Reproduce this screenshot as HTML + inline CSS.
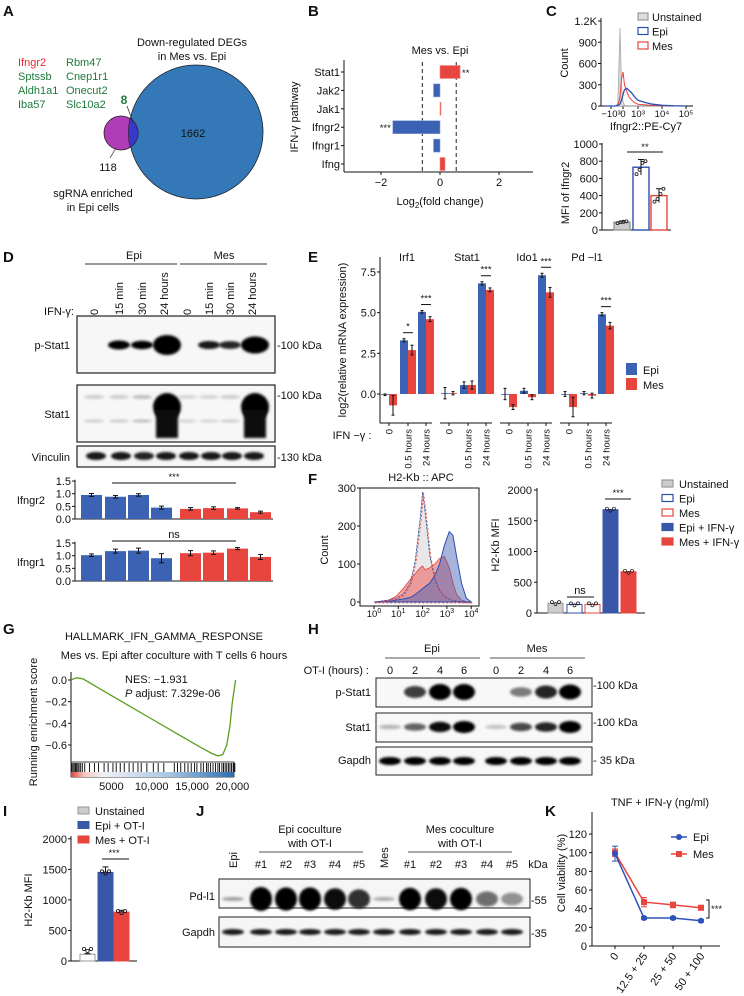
<!DOCTYPE html>
<html><head><meta charset="utf-8"><style>
html,body{margin:0;padding:0;background:#fff}
svg{display:block}
text{font-family:"Liberation Sans",sans-serif;fill:#111}
.pl{font-size:15px;font-weight:bold}
.t{font-size:11px}
.s{font-size:9.5px}
</style></head><body>
<svg id="fig" width="744" height="996" viewBox="0 0 744 996" xmlns="http://www.w3.org/2000/svg">
<defs>
<filter id="blur1" x="-50%" y="-50%" width="200%" height="200%"><feGaussianBlur stdDeviation="1.4"/></filter>
<linearGradient id="gsea" x1="0" x2="1" y1="0" y2="0">
<stop offset="0" stop-color="#e0403a"/><stop offset="0.08" stop-color="#f3c8c0"/><stop offset="0.2" stop-color="#f0f0f6"/><stop offset="0.6" stop-color="#a8c6e2"/><stop offset="1" stop-color="#2a6eb0"/></linearGradient>
</defs>
<!-- Panel A -->
<g>
<text class="pl" x="3" y="16">A</text>
<text class="t" x="192" y="46" text-anchor="middle">Down-regulated DEGs</text>
<text class="t" x="192" y="60" text-anchor="middle">in Mes vs. Epi</text>
<text class="t" x="18" y="66" style="fill:#e8262d">Ifngr2</text>
<text class="t" x="66" y="66" style="fill:#1e7a3c">Rbm47</text>
<text class="t" x="18" y="80" style="fill:#1e7a3c">Sptssb</text>
<text class="t" x="66" y="80" style="fill:#1e7a3c">Cnep1r1</text>
<text class="t" x="18" y="94" style="fill:#1e7a3c">Aldh1a1</text>
<text class="t" x="66" y="94" style="fill:#1e7a3c">Onecut2</text>
<text class="t" x="18" y="108" style="fill:#1e7a3c">Iba57</text>
<text class="t" x="66" y="108" style="fill:#1e7a3c">Slc10a2</text>
<circle cx="196" cy="132" r="67" fill="#3478b8" stroke="#222" stroke-width="0.8"/>
<circle cx="121" cy="133" r="17" fill="#b03cb8" stroke="#222" stroke-width="0.8"/>
<path d="M130,118.5 A17,17 0 0 1 130,147.5 A67,67 0 0 1 130,118.5 Z" fill="#3a38c8" stroke="#222" stroke-width="0.6"/>
<text x="124" y="104" text-anchor="middle" style="fill:#1e7a3c;font-size:12px;font-weight:bold">8</text>
<line x1="127" y1="106" x2="133" y2="122" stroke="#222" stroke-width="0.7"/>
<text class="t" x="193" y="137" text-anchor="middle">1662</text>
<line x1="110" y1="158" x2="116" y2="148" stroke="#222" stroke-width="0.7"/>
<text class="t" x="108" y="171" text-anchor="middle">118</text>
<text class="t" x="93" y="197" text-anchor="middle">sgRNA enriched</text>
<text class="t" x="93" y="211" text-anchor="middle">in Epi cells</text>
</g>
<!-- Panel B -->
<g id="pB">
<text class="pl" x="308" y="16">B</text>
<text class="t" x="440" y="54" text-anchor="middle">Mes vs. Epi</text>
<text class="t" x="440" y="205" text-anchor="middle">Log<tspan font-size="8" dy="3">2</tspan><tspan dy="-3">(fold change)</tspan></text>
<text class="t" transform="translate(298,117) rotate(-90)" text-anchor="middle">IFN-γ pathway</text>
</g>
<!-- Panel C -->
<g id="pC">
<text class="pl" x="546" y="16">C</text>
<text class="t" transform="translate(568,63) rotate(-90)" text-anchor="middle">Count</text>
<text class="t" x="646" y="130" text-anchor="middle">Ifngr2::PE-Cy7</text>
<text class="t" transform="translate(569,193) rotate(-90)" text-anchor="middle">MFI of Ifngr2</text>
</g>
<!-- Panel D -->
<g id="pD">
<text class="pl" x="3" y="262">D</text>
<text class="t" x="134" y="259" text-anchor="middle">Epi</text>
<line x1="85" y1="264" x2="177" y2="264" stroke="#333"/>
<text class="t" x="224" y="259" text-anchor="middle">Mes</text>
<line x1="180" y1="264" x2="267" y2="264" stroke="#333"/>
<text class="t" x="74" y="315" text-anchor="end">IFN-γ:</text>
<text class="t" x="70" y="349" text-anchor="end">p-Stat1</text>
<text class="t" x="70" y="418" text-anchor="end">Stat1</text>
<text class="t" x="70" y="461" text-anchor="end">Vinculin</text>
<text class="t" x="277" y="349">-100 kDa</text>
<text class="t" x="277" y="399">-100 kDa</text>
<text class="t" x="277" y="461">-130 kDa</text>
<text class="t" x="45" y="504" text-anchor="end">Ifngr2</text>
<text class="t" x="45" y="566" text-anchor="end">Ifngr1</text>
</g>
<!-- Panel E -->
<g id="pE">
<text class="pl" x="308" y="262">E</text>
<text class="t" transform="translate(346,340) rotate(-90)" text-anchor="middle">log2(relative mRNA expression)</text>
<text class="t" x="352" y="439" text-anchor="middle">IFN −γ :</text>
</g>
<!-- Panel F -->
<g id="pF">
<text class="pl" x="308" y="484">F</text>
<text class="t" x="421" y="481" text-anchor="middle">H2-Kb :: APC</text>
<text class="t" transform="translate(328,550) rotate(-90)" text-anchor="middle">Count</text>
<text class="t" transform="translate(499,545) rotate(-90)" text-anchor="middle">H2-Kb MFI</text>
</g>
<!-- Panel G -->
<g id="pG">
<text class="pl" x="3" y="634">G</text>
<text class="t" x="164" y="640" text-anchor="middle">HALLMARK_IFN_GAMMA_RESPONSE</text>
<text class="t" x="174" y="659" text-anchor="middle">Mes vs. Epi  after coculture with T cells 6 hours</text>
<text class="t" x="125" y="683">NES: −1.931</text>
<text class="t" x="125" y="697"><tspan font-style="italic">P</tspan> adjust: 7.329e-06</text>
<text class="t" transform="translate(37,722) rotate(-90)" text-anchor="middle">Running enrichment score</text>
</g>
<!-- Panel H -->
<g id="pH">
<text class="pl" x="308" y="634">H</text>
<text class="t" x="432" y="652" text-anchor="middle">Epi</text>
<line x1="385" y1="658" x2="480" y2="658" stroke="#555"/>
<text class="t" x="537" y="652" text-anchor="middle">Mes</text>
<line x1="490" y1="658" x2="585" y2="658" stroke="#555"/>
<text class="t" x="369" y="674" text-anchor="end">OT-I (hours) :</text>
<text class="t" x="371" y="696" text-anchor="end">p-Stat1</text>
<text class="t" x="371" y="731" text-anchor="end">Stat1</text>
<text class="t" x="371" y="764" text-anchor="end">Gapdh</text>
<text class="t" x="593" y="689">-100 kDa</text>
<text class="t" x="593" y="726">-100 kDa</text>
<text class="t" x="593" y="764">- 35 kDa</text>
</g>
<!-- Panel I -->
<g id="pI">
<text class="pl" x="3" y="816">I</text>
<text class="t" transform="translate(32,900) rotate(-90)" text-anchor="middle">H2-Kb MFI</text>
</g>
<!-- Panel J -->
<g id="pJ">
<text class="pl" x="196" y="816">J</text>
<text class="t" x="310" y="833" text-anchor="middle">Epi coculture</text>
<text class="t" x="310" y="847" text-anchor="middle">with OT-I</text>
<line x1="259" y1="852" x2="363" y2="852" stroke="#555"/>
<text class="t" x="460" y="833" text-anchor="middle">Mes coculture</text>
<text class="t" x="460" y="847" text-anchor="middle">with OT-I</text>
<line x1="408" y1="852" x2="512" y2="852" stroke="#555"/>
<text class="t" x="215" y="900" text-anchor="end">Pd-l1</text>
<text class="t" x="215" y="936" text-anchor="end">Gapdh</text>
<text class="t" x="531" y="904">-55</text>
<text class="t" x="531" y="937">-35</text>
<text class="t" x="538" y="868" text-anchor="middle">kDa</text>
</g>
<!-- Panel K -->
<g id="pK">
<text class="pl" x="545" y="816">K</text>
<text class="t" x="660" y="806" text-anchor="middle">TNF + IFN-γ (ng/ml)</text>
<text class="t" transform="translate(565,873) rotate(-90)" text-anchor="middle">Cell viability (%)</text>
</g>
</svg>
<script>
var NS='http://www.w3.org/2000/svg';
var BLUE='#3b62b3',RED='#e8453e';
function mk(tag,at,par){var e=document.createElementNS(NS,tag);for(var k in at)e.setAttribute(k,at[k]);(par||document.getElementById('fig')).appendChild(e);return e;}
function tx(x,y,s,cls,anchor,par){var e=mk('text',{x:x,y:y,'class':cls||'s','text-anchor':anchor||'middle'},par);e.textContent=s;return e;}

// ---------- B data ----------
var bGenes=['Stat1','Jak2','Jak1','Ifngr2','Ifngr1','Ifng'];
var bVals=[0.68,-0.22,0.03,-1.6,-0.22,0.17];
var bTicks=[-2,0,2];
var bStars=['**','','','***','',''];
(function(){var g=document.getElementById('pB');
function X(v){return 440+v*29.5;} function Y(i){return 72+i*18.4;}
mk('line',{x1:344,y1:60,x2:344,y2:172,stroke:'#111'},g);
mk('line',{x1:344,y1:172,x2:533,y2:172,stroke:'#111'},g);
[-0.6,0.55].forEach(function(v){var l=mk('line',{x1:X(v),y1:62,x2:X(v),y2:172,stroke:'#222','stroke-dasharray':'4,3'},g);

});
bTicks.forEach(function(t){mk('line',{x1:X(t),y1:172,x2:X(t),y2:175,stroke:'#111'},g);var e=tx(X(t),186,t<0?'−'+Math.abs(t):String(t),'t','middle',g);

});
bGenes.forEach(function(n,i){var v=bVals[i],y=Y(i);
mk('line',{x1:341,y1:y,x2:344,y2:y,stroke:'#111'},g);
var l=tx(340,y+4,n,'t','end',g);


var r=mk('rect',{x:Math.min(X(0),X(v)),y:y-6.5,width:Math.max(1,Math.abs(X(v)-X(0))),height:13,fill:v>=0?RED:BLUE,stroke:v>=0?'#f08a85':'#8aa0d8','stroke-width':0.6},g);


if(bStars[i]){var s=tx(v>0?X(v)+2:X(v)-2,y+4,bStars[i],'s',v>0?'start':'end',g);

}
});})();

// ---------- C data ----------
var cHistTicks=[0,300,600,900,1200];
var cHistTickLabels=['0','300','600','900','1.2K'];
var cBinU=[-1.2,-0.5,-0.35,-0.2,-0.1,0,0.1,0.25,0.4,0.55,0.7,0.85,1,1.3,1.6,2,2.5,3];
var cUnst=[0,0,40,1100,300,60,10,0,0,0,0,0,0,0,0,0,0,0];
var cMes=[0,0,10,120,380,480,300,200,130,90,60,40,25,15,8,4,1,0];
var cEpi=[0,0,5,30,80,160,230,250,220,190,150,110,80,50,25,10,3,0];
var cBarCats=['Unstained','Epi','Mes'];
var cBarVals=[90,730,400];
var cBarErr=[15,90,80];
var cBarDots=[[80,90,95,100],[650,700,780,800],[330,360,420,480]];
var cBarTicks=[0,200,400,600,800,1000];
(function(){var g=document.getElementById('pC');
function X(u){return u<=1?623+u*15:638+(u-1)*24;} function Y(c){return 106-c/1200*85;}
mk('line',{x1:601,y1:18,x2:601,y2:106,stroke:'#111'},g);
mk('line',{x1:601,y1:106,x2:693,y2:106,stroke:'#111'},g);
cHistTicks.forEach(function(t,i){mk('line',{x1:598,y1:Y(t),x2:601,y2:Y(t),stroke:'#111'},g);var e=tx(597,Y(t)+4,cHistTickLabels[i],'t','end',g);

});
[[-0.8,'−10³'],[0,'0'],[1,'10³'],[2,'10⁴'],[3,'10⁵']].forEach(function(t){mk('line',{x1:X(t[0]),y1:106,x2:X(t[0]),y2:109,stroke:'#111'},g);var e=tx(X(t[0]),117,t[1],'s','middle',g);

});
function hp(arr){var d='M'+X(cBinU[0])+','+Y(0);cBinU.forEach(function(u,i){d+=' L'+X(u).toFixed(1)+','+Y(arr[i]).toFixed(1);});return d;}
var u=mk('path',{d:hp(cUnst)+' Z',fill:'#d8d8d8',stroke:'#aaa','stroke-width':0.8},g);


var m=mk('path',{d:hp(cMes),fill:'none',stroke:RED,'stroke-width':1},g);


var e=mk('path',{d:hp(cEpi),fill:'none',stroke:'#2c4fb0','stroke-width':1.3},g);


[['Unstained','#ddd','#999'],['Epi','#fff','#2c4fb0'],['Mes','#fff',RED]].forEach(function(l,i){var y=17+i*14.5;
var r=mk('rect',{x:638,y:y-4,width:10,height:7,fill:l[1],stroke:l[2],'stroke-width':1.2},g);


var t=tx(652,y+4,l[0],'t','start',g);

});
// bar
function BY(v){return 230-v*0.086;}
mk('line',{x1:602,y1:143,x2:602,y2:230,stroke:'#111'},g);
mk('line',{x1:602,y1:230,x2:671,y2:230,stroke:'#111'},g);
cBarTicks.forEach(function(t){mk('line',{x1:599,y1:BY(t),x2:602,y2:BY(t),stroke:'#111'},g);var e=tx(598,BY(t)+4,String(t),'t','end',g);

});
var xs=[614,633,651],cols=[['#ccc','#999'],['#fff','#2c4fb0'],['#fff',RED]];
cBarCats.forEach(function(c,i){var v=cBarVals[i];
var r=mk('rect',{x:xs[i],y:BY(v),width:16,height:230-BY(v),fill:cols[i][0],stroke:cols[i][1],'stroke-width':1.4},g);


var cx=xs[i]+8;mk('line',{x1:cx,y1:BY(v+cBarErr[i]),x2:cx,y2:BY(v-cBarErr[i]),stroke:'#111'},g);
mk('line',{x1:cx-3,y1:BY(v+cBarErr[i]),x2:cx+3,y2:BY(v+cBarErr[i]),stroke:'#111'},g);
cBarDots[i].forEach(function(d,j){mk('circle',{cx:cx-4.5+j*3,cy:BY(d),r:1.5,fill:'none',stroke:'#111','stroke-width':0.8},g);});});
mk('line',{x1:627,y1:152,x2:663,y2:152,stroke:'#111'},g);
tx(645,150,'**','s','middle',g);
})();

// ---------- D blots & quant ----------
var dLanes=['0','15 min','30 min','24 hours','0','15 min','30 min','24 hours'];
var dPstat1=[0,0.75,0.6,1.0,0,0.5,0.45,0.85];
var dStat1=[0.15,0.15,0.2,1.0,0.12,0.12,0.15,1.0];
var dVinc=[0.9,0.9,0.85,0.9,0.9,0.9,0.9,0.9];
var dIfngr2=[0.95,0.88,0.95,0.45,0.4,0.43,0.42,0.27];
var dIfngr2Err=[0.06,0.05,0.05,0.06,0.05,0.05,0.03,0.04];
var dIfngr1=[1.02,1.18,1.2,0.9,1.1,1.12,1.28,0.95];
var dIfngr1Err=[0.05,0.08,0.1,0.18,0.1,0.07,0.04,0.1];
(function(){var g=document.getElementById('pD');
var lx=[94,119,142,164,187,209,230,252];
dLanes.forEach(function(l,i){var t=mk('text',{x:0,y:0,'class':'t','text-anchor':'start',transform:'translate('+(lx[i]+4)+',315) rotate(-90)'},g);t.textContent=l;

});
function box(y,h,name){var r=mk('rect',{x:77,y:y,width:198,height:h,fill:'#f7f7f7',stroke:'#222','stroke-width':1.2},g);

}
box(316,57,'d-blot-pstat1');box(385,57,'d-blot-stat1');box(446,21,'d-blot-vinculin');
dPstat1.forEach(function(v,i){if(v>0){var big=i==3||i==7;mk('ellipse',{cx:lx[i]+(big?3:0),cy:345,rx:big?14:11,ry:big?10*v:3+2*v,fill:'#000',opacity:Math.min(1,0.4+v),filter:'url(#blur1)'},g);}});
dStat1.forEach(function(v,i){if(v>=1){mk('ellipse',{cx:lx[i]+3,cy:407,rx:14,ry:14,fill:'#000',filter:'url(#blur1)'},g);mk('rect',{x:lx[i]-8,y:410,width:22,height:28,fill:'#111',filter:'url(#blur1)'},g);}
else{mk('ellipse',{cx:lx[i],cy:397,rx:10,ry:2,fill:'#888',opacity:v*2.5,filter:'url(#blur1)'},g);mk('ellipse',{cx:lx[i],cy:421,rx:10,ry:1.6,fill:'#888',opacity:v*2.5,filter:'url(#blur1)'},g);}});
dVinc.forEach(function(v,i){mk('ellipse',{cx:lx[i]+2,cy:456,rx:10,ry:4,fill:'#000',opacity:v,filter:'url(#blur1)'},g);});
function quant(vals,errs,y0,name){function Y(v){return y0-v*25.3;}
mk('line',{x1:75,y1:Y(1.55),x2:75,y2:y0,stroke:'#111'},g);mk('line',{x1:75,y1:y0,x2:273,y2:y0,stroke:'#111'},g);
[0,0.5,1,1.5].forEach(function(t){mk('line',{x1:72,y1:Y(t),x2:75,y2:Y(t),stroke:'#111'},g);var e=tx(71,Y(t)+4,t.toFixed(1),'t','end',g);

});
var bx=[81,105,128,151,180,203,227,250];
vals.forEach(function(v,i){var r=mk('rect',{x:bx[i],y:Y(v),width:21,height:y0-Y(v),fill:i<4?BLUE:RED},g);


var cx=bx[i]+10.5;mk('line',{x1:cx,y1:Y(v+errs[i]),x2:cx,y2:Y(v-errs[i]),stroke:'#111'},g);
mk('line',{x1:cx-2.5,y1:Y(v+errs[i]),x2:cx+2.5,y2:Y(v+errs[i]),stroke:'#111'},g);mk('line',{x1:cx-2.5,y1:Y(v-errs[i]),x2:cx+2.5,y2:Y(v-errs[i]),stroke:'#111'},g);});}
quant(dIfngr2,dIfngr2Err,519,'ifngr2');quant(dIfngr1,dIfngr1Err,581,'ifngr1');
mk('line',{x1:112,y1:483,x2:236,y2:483,stroke:'#111'},g);tx(174,480,'***','s','middle',g);
mk('line',{x1:112,y1:541,x2:236,y2:541,stroke:'#111'},g);tx(174,538,'ns','t','middle',g);
})();

// ---------- E data ----------
var eGenes=['Irf1','Stat1','Ido1','Pd −l1'];
var eTimes=['0','0.5 hours','24 hours'];
var eEpi=[[-0.05,3.3,5.05],[0.05,0.55,6.8],[0.0,0.2,7.3],[0.0,0.05,4.9]];
var eMes=[[-0.7,2.7,4.6],[0.05,0.55,6.4],[-0.8,-0.2,6.25],[-0.8,-0.1,4.2]];
var eEpiErr=[[0.05,0.1,0.08],[0.35,0.2,0.1],[0.35,0.15,0.12],[0.15,0.1,0.1]];
var eMesErr=[[0.6,0.3,0.15],[0.1,0.25,0.12],[0.15,0.15,0.3],[0.6,0.15,0.2]];
var eSig=[['','*','***'],['','','***'],['','','***'],['','','***']];
var eTicks=[0,2.5,5,7.5];
(function(){var g=document.getElementById('pE');
function Y(v){return 394-v*16.27;}
var gs=[380,440,500,560],off=[9,28,46];
mk('line',{x1:380,y1:257,x2:380,y2:423,stroke:'#111'},g);
eTicks.forEach(function(t){mk('line',{x1:377,y1:Y(t),x2:380,y2:Y(t),stroke:'#111'},g);var e=tx(376,Y(t)+4,t.toFixed(1),'t','end',g);

});
eGenes.forEach(function(n,gi){var x0=gs[gi];
mk('line',{x1:x0,y1:423,x2:x0+52,y2:423,stroke:'#111'},g);
var h=tx(x0+27,261,n,'t','middle',g);


eTimes.forEach(function(tl,ti){var t=x0+off[ti];
mk('line',{x1:t,y1:423,x2:t,y2:426,stroke:'#111'},g);
var lab=mk('text',{x:0,y:0,'class':'s','text-anchor':'end',transform:'translate('+(t+3.5)+',429) rotate(-90)'},g);lab.textContent=tl;


[[eEpi,eEpiErr,BLUE,t-8],[eMes,eMesErr,RED,t]].forEach(function(s,si){var v=s[0][gi][ti],er=s[1][gi][ti];
var r=mk('rect',{x:s[3],y:Math.min(Y(v),Y(0)),width:8,height:Math.max(0.8,Math.abs(Y(v)-Y(0))),fill:s[2]},g);


var cx=s[3]+4;mk('line',{x1:cx,y1:Y(v+er),x2:cx,y2:Y(v-er),stroke:'#111'},g);
mk('line',{x1:cx-1.5,y1:Y(v+er),x2:cx+1.5,y2:Y(v+er),stroke:'#111'},g);mk('line',{x1:cx-1.5,y1:Y(v-er),x2:cx+1.5,y2:Y(v-er),stroke:'#111'},g);});
if(eSig[gi][ti]){var top=Math.max(eEpi[gi][ti]+eEpiErr[gi][ti],eMes[gi][ti]+eMesErr[gi][ti]);
mk('line',{x1:t-5,y1:Y(top)-6,x2:t+5,y2:Y(top)-6,stroke:'#111'},g);
var s=tx(t,Y(top)-9,eSig[gi][ti],'s','middle',g);

}
});});
[['Epi',BLUE,369],['Mes',RED,384]].forEach(function(l){var r=mk('rect',{x:626,y:l[2]-6,width:11,height:12,fill:l[1]},g);


var t=tx(643,l[2]+5,l[0],'t','start',g);

});
})();

// ---------- F data ----------
var fBinD=[0,0.3,0.6,0.9,1.2,1.5,1.7,1.9,2.0,2.1,2.3,2.5,2.7,2.9,3.1,3.25,3.4,3.6,3.8,4.0];
var fCtrl=[0,2,5,10,20,50,110,220,290,240,120,60,30,15,8,4,2,1,0,0];
var fEpiIfn=[0,0,2,5,8,12,20,30,35,40,50,70,100,150,185,175,120,50,10,0];
var fMesIfn=[0,2,5,15,35,60,75,90,95,85,90,100,115,120,90,50,20,5,1,0];
var fBarCats=['Unstained','Epi','Mes','Epi + IFN-γ','Mes + IFN-γ'];
var fBarVals=[160,140,140,1680,670];
var fBarTicks=[0,500,1000,1500,2000];
(function(){var g=document.getElementById('pF');
function X(d){return 374+d*24.3;} function Y(c){return 602-c*0.38;}
mk('rect',{x:360,y:488,width:119,height:118,fill:'none',stroke:'#111'},g);
[0,100,200,300].forEach(function(t){mk('line',{x1:357,y1:Y(t),x2:360,y2:Y(t),stroke:'#111'},g);var e=tx(356,Y(t)+4,String(t),'t','end',g);

});
[0,1,2,3,4].forEach(function(d){mk('line',{x1:X(d),y1:606,x2:X(d),y2:609,stroke:'#111'},g);var e=mk('text',{x:X(d),y:617,'class':'s','text-anchor':'middle'},g);e.innerHTML='10<tspan dy="-4" font-size="7">'+d+'</tspan>';

});
function hp(arr){var d='M'+X(fBinD[0])+','+Y(0);fBinD.forEach(function(u,i){d+=' L'+X(u).toFixed(1)+','+Y(arr[i]).toFixed(1);});return d+' L'+X(fBinD[fBinD.length-1])+','+Y(0)+' Z';}
var a=mk('path',{d:hp(fCtrl),fill:'#e6e6e6',stroke:'#999','stroke-width':0.6,opacity:0.9},g);


var b=mk('path',{d:hp(fMesIfn),fill:'rgba(235,90,90,0.55)',stroke:RED,'stroke-width':0.8},g);


var c=mk('path',{d:hp(fEpiIfn),fill:'rgba(60,90,180,0.45)',stroke:'#2c4fb0','stroke-width':1},g);


var d1=mk('path',{d:hp(fCtrl),fill:'none',stroke:'#2c4fb0','stroke-width':0.8,'stroke-dasharray':'2,1.5'},g);


var d2=mk('path',{d:hp(fCtrl),fill:'none',stroke:RED,'stroke-width':0.8,'stroke-dasharray':'2,2',transform:'translate(1,1)'},g);


function BY(v){return 613-v*0.0615;}
mk('line',{x1:537,y1:488,x2:537,y2:613,stroke:'#111'},g);mk('line',{x1:537,y1:613,x2:645,y2:613,stroke:'#111'},g);
fBarTicks.forEach(function(t){mk('line',{x1:534,y1:BY(t),x2:537,y2:BY(t),stroke:'#111'},g);var e=tx(532,BY(t)+4,String(t),'t','end',g);

});
var xs=[548,567,585,603,621],fills=['#ccc','#fff','#fff','#3a56a8',RED],strokes=['#999','#2c4fb0',RED,'#3a56a8',RED];
fBarCats.forEach(function(cn,i){var v=fBarVals[i];
var r=mk('rect',{x:xs[i],y:BY(v),width:15,height:613-BY(v),fill:fills[i],stroke:strokes[i],'stroke-width':1},g);


for(var j=0;j<3;j++)mk('circle',{cx:xs[i]+4+j*3.5,cy:BY(v)-1+(j%2)*2,r:1.5,fill:'none',stroke:'#111','stroke-width':0.7},g);
var ry=484+i*14.5;
var sw=mk('rect',{x:662,y:ry-4,width:11,height:7,fill:fills[i],stroke:strokes[i],'stroke-width':1.2},g);


var lt=tx(679,ry+4,cn,'t','start',g);

});
mk('line',{x1:567,y1:597,x2:594,y2:597,stroke:'#111'},g);tx(580,594,'ns','t','middle',g);
mk('line',{x1:605,y1:499,x2:631,y2:499,stroke:'#111'},g);tx(618,496,'***','s','middle',g);
})();

// ---------- G data ----------
var gRank=[0,300,700,1500,4000,7000,10000,13000,16000,17500,18200,18800,19300,19700,20000,20400];
var gES=[0,0.01,0.02,0.01,-0.1,-0.23,-0.36,-0.49,-0.62,-0.68,-0.70,-0.69,-0.6,-0.42,-0.2,0.0];
var gHits=[100,250,400,550,700,850,1000,1200,1400,1700,2300,2900,3400,4100,4600,5200,5600,6100,6600,7200,7700,8300,8700,9400,10200,10800,11500,12800,13200,13600,14100,14500,14900,15300,15600,16100,16400,16800,17000,17300,17600,17900,18200,18400,18700,18900,19100,19300,19500,19700,19900,20100,20300];
var gTicks=[0,-0.2,-0.4,-0.6];
(function(){var g=document.getElementById('pG');
function X(r){return 71+r*0.00807;} function Y(v){return 680-v*108.3;}
mk('line',{x1:71,y1:672,x2:71,y2:762,stroke:'#111'},g);
gTicks.forEach(function(t){mk('line',{x1:68,y1:Y(t),x2:71,y2:Y(t),stroke:'#111'},g);var e=tx(67,Y(t)+4,t===0?'0.0':'−'+Math.abs(t).toFixed(1),'t','end',g);

});
var d='';gRank.forEach(function(r,i){d+=(i?' L':'M')+X(r).toFixed(1)+','+Y(gES[i]).toFixed(1);});
var p=mk('path',{d:d,fill:'none',stroke:'#5a9e1e','stroke-width':1.3},g);


mk('rect',{x:71,y:762,width:163,height:15,fill:'#fff',stroke:'#111','stroke-width':0.8},g);
var cb=mk('rect',{x:71,y:772,width:163,height:5,fill:'url(#gsea)'},g);


gHits.forEach(function(h){var l=mk('line',{x1:X(h),y1:763,x2:X(h),y2:772,stroke:'#000','stroke-width':0.9},g);

});
[[5000,'5000'],[10000,'10,000'],[15000,'15,000'],[20000,'20,000']].forEach(function(t){var e=tx(X(t[0]),790,t[1],'t','middle',g);

});
})();

// ---------- H blots ----------
var hLanes=['0','2','4','6','0','2','4','6'];
var hPstat1=[0,0.6,1,1,0,0.35,0.7,0.9];
var hStat1=[0.1,0.45,0.8,1,0.05,0.55,0.7,1];
var hGapdh=[0.9,0.9,0.85,0.85,0.85,0.9,0.9,0.95];
(function(){var g=document.getElementById('pH');
var lx=[390,415,440,464,496,521,546,570];
hLanes.forEach(function(l,i){var t=tx(lx[i],674,l,'t','middle',g);

});
[[678,29,'h-blot-pstat1',hPstat1,692,'p'],[713,29,'h-blot-stat1',hStat1,727,'s'],[747,28,'h-blot-gapdh',hGapdh,761,'g']].forEach(function(b){
var r=mk('rect',{x:376,y:b[0],width:216,height:b[1],fill:'#f8f8f8',stroke:'#222','stroke-width':1},g);


b[3].forEach(function(v,i){if(v<=0)return;var ry=b[5]=='p'?3+5*v:(b[5]=='s'?2+4*v:4);
var e=mk('ellipse',{cx:lx[i],cy:b[4],rx:11,ry:ry,fill:'#000',opacity:Math.min(1,0.15+v),filter:'url(#blur1)'},g);

});});
})();

// ---------- I data ----------
var iCats=['Unstained','Epi + OT-I','Mes + OT-I'];
var iVals=[110,1450,800];
var iErr=[10,90,30];
var iTicks=[0,500,1000,1500,2000];
(function(){var g=document.getElementById('pI');
function Y(v){return 961-v*0.0611;}
mk('line',{x1:71,y1:836,x2:71,y2:961,stroke:'#111'},g);mk('line',{x1:71,y1:961,x2:137,y2:961,stroke:'#111'},g);
iTicks.forEach(function(t){mk('line',{x1:68,y1:Y(t),x2:71,y2:Y(t),stroke:'#111'},g);var e=tx(67,Y(t)+4,String(t),'t','end',g);

});
var xs=[80,98,114],fills=['#fff','#3a56a8',RED],strokes=['#999','#3a56a8',RED],lf=['#ccc','#3a56a8',RED];
iCats.forEach(function(c,i){var v=iVals[i];
var r=mk('rect',{x:xs[i],y:Y(v),width:15,height:961-Y(v),fill:fills[i],stroke:strokes[i]},g);


var cx=xs[i]+7.5;mk('line',{x1:cx,y1:Y(v+iErr[i]),x2:cx,y2:Y(v),stroke:'#111'},g);
mk('line',{x1:cx-3,y1:Y(v+iErr[i]),x2:cx+3,y2:Y(v+iErr[i]),stroke:'#111'},g);
for(var j=0;j<3;j++)mk('circle',{cx:cx-3.5+j*3.5,cy:Y(v+(i==0?70:0))-1+(j%2)*2,r:1.6,fill:'none',stroke:'#111','stroke-width':0.8},g);
var ly=811+i*14.5;
var sw=mk('rect',{x:78,y:ly-4,width:11,height:7,fill:lf[i],stroke:strokes[i]},g);


var lt=tx(95,ly+4,c,'t','start',g);

});
mk('line',{x1:102,y1:859,x2:129,y2:859,stroke:'#111'},g);tx(114,856,'***','s','middle',g);
})();

// ---------- J blots ----------
var jLanes=['Epi','#1','#2','#3','#4','#5','Mes','#1','#2','#3','#4','#5'];
var jPdl1=[0.25,1,0.95,0.95,0.85,0.7,0.2,0.9,0.85,0.9,0.45,0.3];
var jGapdh=[0.9,0.9,0.9,0.9,0.9,0.9,0.9,0.9,0.9,0.9,0.9,0.9];
(function(){var g=document.getElementById('pJ');
var lx=[233,261,286,310,335,359,384,410,436,461,487,512];
jLanes.forEach(function(l,i){var t;if(l==='Epi'||l==='Mes'){t=mk('text',{x:0,y:0,'class':'t','text-anchor':'start',transform:'translate('+(lx[i]+4)+',868) rotate(-90)'},g);t.textContent=l;}else t=tx(lx[i],868,l,'t','middle',g);

});
[[879,29,'j-blot-pdl1',jPdl1,899],[917,30,'j-blot-gapdh',jGapdh,932]].forEach(function(b,bi){
var r=mk('rect',{x:219,y:b[0],width:311,height:b[1],fill:'#f6f6f6',stroke:'#222','stroke-width':1},g);


b[3].forEach(function(v,i){var e=mk('ellipse',{cx:lx[i],cy:b[4],rx:11,ry:bi?3:(v<0.3?2:4+8*v),fill:'#000',opacity:bi?0.9:Math.min(1,v+0.1),filter:'url(#blur1)'},g);

});});
})();

// ---------- K data ----------
var kDoses=['0','12.5 + 25','25 + 50','50 + 100'];
var kEpi=[99,30,30,27];
var kMes=[100,47,44,41];
var kEpiErr=[8,1.5,1.5,1.5];
var kMesErr=[4,5,3,2.5];
var kTicks=[0,20,40,60,80,100,120];
(function(){var g=document.getElementById('pK');
function Y(v){return 946-v*0.933;} var xs=[615,644,673,701];
mk('line',{x1:592,y1:812,x2:592,y2:946,stroke:'#111'},g);mk('line',{x1:592,y1:946,x2:720,y2:946,stroke:'#111'},g);
kTicks.forEach(function(t){mk('line',{x1:589,y1:Y(t),x2:592,y2:Y(t),stroke:'#111'},g);var e=tx(587,Y(t)+4,String(t),'t','end',g);

});
kDoses.forEach(function(d,i){mk('line',{x1:xs[i],y1:946,x2:xs[i],y2:949,stroke:'#111'},g);
var t=mk('text',{x:0,y:0,'class':'t','text-anchor':'end',transform:'translate('+(xs[i]+4)+',956) rotate(-55)'},g);t.textContent=d;

});
[[kMes,kMesErr,RED,'mes'],[kEpi,kEpiErr,'#2c54b8','epi']].forEach(function(s){var d='';
s[0].forEach(function(v,i){d+=(i?' L':'M')+xs[i]+','+Y(v).toFixed(1);});
var p=mk('path',{d:d,fill:'none',stroke:s[2],'stroke-width':1.5},g);


s[0].forEach(function(v,i){var e=s[1][i];mk('line',{x1:xs[i],y1:Y(v+e),x2:xs[i],y2:Y(v-e),stroke:s[2]},g);
mk('line',{x1:xs[i]-3,y1:Y(v+e),x2:xs[i]+3,y2:Y(v+e),stroke:s[2]},g);mk('line',{x1:xs[i]-3,y1:Y(v-e),x2:xs[i]+3,y2:Y(v-e),stroke:s[2]},g);
var m=s[3]=='epi'?mk('circle',{cx:xs[i],cy:Y(v),r:3,fill:s[2]},g):mk('rect',{x:xs[i]-3,y:Y(v)-3,width:6,height:6,fill:s[2]},g);

});});
[['Epi','#2c54b8',837,'c'],['Mes',RED,854,'s']].forEach(function(l){mk('line',{x1:671,y1:l[2],x2:687,y2:l[2],stroke:l[1],'stroke-width':1.5},g);
if(l[3]=='c')mk('circle',{cx:679,cy:l[2],r:3,fill:l[1]},g);else mk('rect',{x:676,y:l[2]-3,width:6,height:6,fill:l[1]},g);
var t=tx(693,l[2]+4,l[0],'t','start',g);

});
mk('path',{d:'M706,900 L709,900 L709,918 L706,918',fill:'none',stroke:'#111'},g);
tx(711,912,'***','s','start',g);
})();
</script>
</body></html>
